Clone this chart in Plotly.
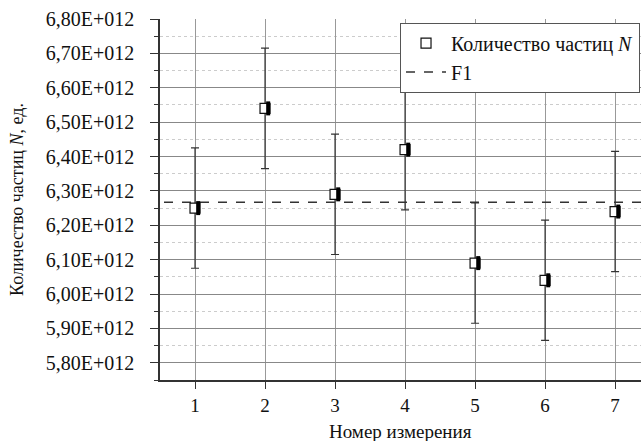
import plotly.graph_objects as go

measurements = [1, 2, 3, 4, 5, 6, 7]
counts = [6.25e12, 6.54e12, 6.29e12, 6.42e12, 6.09e12, 6.04e12, 6.24e12]
errors = [0.175e12] * 7
f1_value = 6.267e12
ytick_vals = [5.8e12, 5.9e12, 6.0e12, 6.1e12, 6.2e12, 6.3e12, 6.4e12, 6.5e12, 6.6e12, 6.7e12, 6.8e12]
ytick_text = ["5,80E+012", "5,90E+012", "6,00E+012", "6,10E+012", "6,20E+012", "6,30E+012",
              "6,40E+012", "6,50E+012", "6,60E+012", "6,70E+012", "6,80E+012"]
x_title = "Номер измерения"
y_title = "Количество частиц <i>N</i>, ед."

FONT = "Times New Roman"
half_offset = 0.045

fig = go.Figure()
# F1 mean line
fig.add_trace(go.Scatter(
    x=[0.3, 8.0], y=[f1_value, f1_value], mode="lines",
    line=dict(color="#333333", width=1.5, dash="dash"),
    name="F1", showlegend=True))
# error bars + white square
fig.add_trace(go.Scatter(
    x=measurements, y=counts, mode="markers",
    marker=dict(symbol="square", size=10, color="white", line=dict(color="#111111", width=1.2)),
    error_y=dict(type="data", array=errors, visible=True, color="#333333", thickness=1.2, width=4),
    name="Количество частиц <i>N</i>", showlegend=True))
# black right half
fig.add_trace(go.Scatter(
    x=[m + half_offset for m in measurements], y=counts, mode="markers",
    marker=dict(symbol="line-ns", size=10, line=dict(color="#000000", width=4)),
    showlegend=False, hoverinfo="skip"))

fig.update_layout(
    width=641, height=441,
    margin=dict(l=160, r=0, t=19, b=61),
    paper_bgcolor="white", plot_bgcolor="white",
    font=dict(family=FONT, color="#111111", size=18),
    legend=dict(x=0.499, y=0.99, xanchor="left", yanchor="top",
                bgcolor="white", bordercolor="#555555", borderwidth=1,
                font=dict(family=FONT, size=20), traceorder="reversed",
                tracegroupgap=0, itemwidth=40),
    showlegend=True,
    annotations=[dict(text=x_title, xref="paper", yref="paper", x=0.5, y=-0.144,
                      xanchor="center", yanchor="middle", showarrow=False,
                      font=dict(family=FONT, size=19, color="#111111"))],
)
fig.update_xaxes(
    range=[0.5, 7.37], tickvals=measurements, ticktext=[str(m) for m in measurements],
    showgrid=True, gridcolor="#999999", gridwidth=1,
    showline=True, linecolor="#333333", linewidth=1.5,
    ticks="outside", ticklen=7, tickcolor="#333333", ticklabelstandoff=0,
    tickfont=dict(family=FONT, size=19), zeroline=False,
)
fig.update_yaxes(
    range=[5.75e12, 6.80e12], tickvals=ytick_vals, ticktext=ytick_text,
    showgrid=True, gridcolor="#888888", gridwidth=1,
    showline=True, linecolor="#333333", linewidth=1.5,
    ticks="outside", ticklen=8, tickcolor="#333333", ticklabelstandoff=12,
    tickfont=dict(family=FONT, size=20), zeroline=False,
    minor=dict(dtick=0.1e12, tick0=5.75e12, ticks="outside", ticklen=4, tickcolor="#333333",
               showgrid=True, gridcolor="#cccccc", griddash="dot", gridwidth=1),
    title=dict(text=y_title, font=dict(family=FONT, size=18), standoff=17),
)
fig.write_html("out.html")
